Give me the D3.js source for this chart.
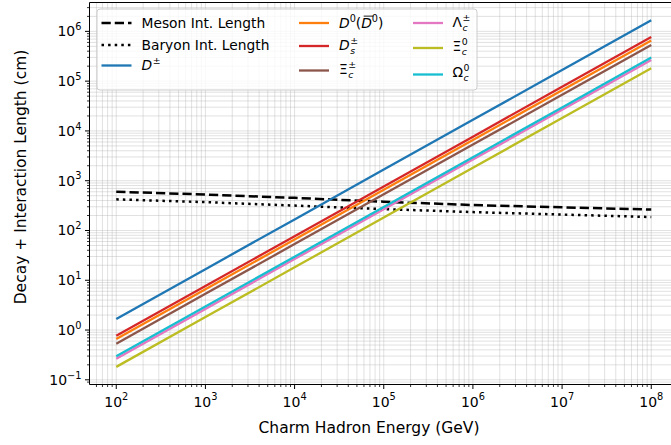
<!DOCTYPE html>
<html><head><meta charset="utf-8">
<script src="https://cdn.jsdelivr.net/npm/d3@7"></script>
<style>body{margin:0;background:#fff;} svg{display:block;font-family:"DejaVu Sans",sans-serif;}</style>
</head><body>
<svg id="c" width="671" height="445"></svg>
<script>
// ---- data ----
const energies = [1e2, 1e3, 1e4, 1e5, 1e6, 1e7, 1e8];
const mesonIntLength  = [600, 528, 452, 378, 324, 292, 263];
const baryonIntLength = [422, 371, 316, 269, 234, 209, 186];
const dPlus   = [1.67, 16.7, 167, 1670, 16700, 167000, 1670000];
const d0      = [0.659, 6.59, 65.9, 659, 6590, 65900, 659000];
const ds      = [0.768, 7.68, 76.8, 768, 7680, 76800, 768000];
const xiCPlus = [0.533, 5.33, 53.3, 533, 5330, 53300, 533000];
const lambdaC = [0.266, 2.66, 26.6, 266, 2660, 26600, 266000];
const xiC0    = [0.182, 1.82, 18.2, 182, 1820, 18200, 182000];
const omegaC0 = [0.297, 2.97, 29.7, 297, 2970, 29700, 297000];
const xTickExps = [2, 3, 4, 5, 6, 7, 8];
const yTickExps = [-1, 0, 1, 2, 3, 4, 5, 6];

const series = [
  {key:"D±", vals:dPlus, color:"#1f77b4"},
  {key:"D0", vals:d0, color:"#ff7f0e"},
  {key:"Ds", vals:ds, color:"#d62728"},
  {key:"Xic+", vals:xiCPlus, color:"#8c564b"},
  {key:"Lc", vals:lambdaC, color:"#e377c2"},
  {key:"Xic0", vals:xiC0, color:"#bcbd22"},
  {key:"Oc0", vals:omegaC0, color:"#17becf"}
];

const svg = d3.select("#c");
const L = 89.5, R = 678, T = 2.5, B = 384.5;
const x = d3.scaleLog().domain([Math.pow(10,1.7), Math.pow(10,8.3)]).range([L, R]);
const y = d3.scaleLog().domain([Math.pow(10,-1.094), Math.pow(10,6.58)]).range([B, T]);

svg.append("defs").append("clipPath").attr("id","clip")
  .append("rect").attr("x",L).attr("y",T).attr("width",R-L).attr("height",B-T);

// grid (major + minor)
const xMinor = [], yMinor = [];
for (let e = 1; e <= 8; e++) for (let m = 1; m <= 9; m++) {
  const v = m*Math.pow(10,e);
  if (v >= x.domain()[0] && v <= x.domain()[1]) xMinor.push(v);
}
for (let e = -2; e <= 6; e++) for (let m = 1; m <= 9; m++) {
  const v = m*Math.pow(10,e);
  if (v >= y.domain()[0] && v <= y.domain()[1]) yMinor.push(v);
}
const g = svg.append("g").attr("clip-path","url(#clip)");
g.selectAll(".gx").data(xMinor).join("line")
  .attr("x1",d=>x(d)).attr("x2",d=>x(d)).attr("y1",T).attr("y2",B)
  .attr("stroke","#b0b0b0").attr("stroke-opacity",0.38).attr("stroke-width",1);
g.selectAll(".gy").data(yMinor).join("line")
  .attr("y1",d=>y(d)).attr("y2",d=>y(d)).attr("x1",L).attr("x2",R)
  .attr("stroke","#b0b0b0").attr("stroke-opacity",0.38).attr("stroke-width",1);

const line = d3.line().x((d,i)=>x(energies[i])).y(d=>y(d));

g.append("path").attr("d", line(mesonIntLength)).attr("fill","none")
  .attr("stroke","#000").attr("stroke-width",2.5).attr("stroke-dasharray","9.25,4");
g.append("path").attr("d", line(baryonIntLength)).attr("fill","none")
  .attr("stroke","#000").attr("stroke-width",2.5).attr("stroke-dasharray","2.5,4.1");
series.forEach(s => {
  g.append("path").attr("d", line(s.vals)).attr("fill","none")
    .attr("stroke", s.color).attr("stroke-width",2.3);
});

// spines
svg.append("line").attr("x1",L).attr("x2",L).attr("y1",T).attr("y2",B).attr("stroke","#000").attr("stroke-width",1);
svg.append("line").attr("x1",L).attr("x2",R).attr("y1",B).attr("y2",B).attr("stroke","#000").attr("stroke-width",1);
svg.append("line").attr("x1",L).attr("x2",R).attr("y1",T).attr("y2",T).attr("stroke","#000").attr("stroke-width",1);

// ticks
const majX = xTickExps.map(e=>Math.pow(10,e));
const majY = yTickExps.map(e=>Math.pow(10,e));
svg.selectAll(".mtx").data(xMinor.filter(v=>!majX.some(m=>Math.abs(m-v)/m<1e-9))).join("line")
  .attr("x1",d=>x(d)).attr("x2",d=>x(d)).attr("y1",B).attr("y2",B+2.5).attr("stroke","#000").attr("stroke-width",0.8);
svg.selectAll(".mty").data(yMinor.filter(v=>!majY.some(m=>Math.abs(m-v)/m<1e-9))).join("line")
  .attr("y1",d=>y(d)).attr("y2",d=>y(d)).attr("x1",L).attr("x2",L-2.5).attr("stroke","#000").attr("stroke-width",0.8);
svg.selectAll(".Mtx").data(majX).join("line")
  .attr("x1",d=>x(d)).attr("x2",d=>x(d)).attr("y1",B).attr("y2",B+4.5).attr("stroke","#000").attr("stroke-width",1);
svg.selectAll(".Mty").data(majY).join("line")
  .attr("y1",d=>y(d)).attr("y2",d=>y(d)).attr("x1",L).attr("x2",L-4.5).attr("stroke","#000").attr("stroke-width",1);

const FS = 14;
function powLabel(sel, e) {
  sel.append("tspan").text("10");
  sel.append("tspan").attr("font-size", FS*0.7).attr("dy", -FS*0.45)
    .text(e < 0 ? "\u2212" + Math.abs(e) : String(e));
}
xTickExps.forEach(e => {
  const t = svg.append("text").attr("x", x(Math.pow(10,e))).attr("y", B+22)
    .attr("text-anchor","middle").attr("font-size",FS).attr("fill","#000");
  powLabel(t, e);
});
yTickExps.forEach(e => {
  const t = svg.append("text").attr("x", L-8).attr("y", y(Math.pow(10,e))+5)
    .attr("text-anchor","end").attr("font-size",FS).attr("fill","#000");
  powLabel(t, e);
});

// axis labels
svg.append("text").attr("x",369).attr("y",433).attr("text-anchor","middle")
  .attr("font-size",15.5).text("Charm Hadron Energy (GeV)");
svg.append("text").attr("transform","translate(26,177) rotate(-90)")
  .attr("text-anchor","middle").attr("font-size",15.5).text("Decay + Interaction Length (cm)");

// legend
const lg = svg.append("g");
lg.append("rect").attr("x",97).attr("y",9).attr("width",380).attr("height",81).attr("rx",3)
  .attr("fill","#fff").attr("fill-opacity",0.8).attr("stroke","#cccccc").attr("stroke-width",1);
const LF = 13.8;
function handle(x0, yy, color, dash, w) {
  lg.append("line").attr("x1",x0).attr("x2",x0+30).attr("y1",yy).attr("y2",yy)
    .attr("stroke",color).attr("stroke-width",w).attr("stroke-dasharray",dash||null);
}
// math label in a single text element: base, superscript, subscript stacked under it
function mathLabel(x0, yy, base, italic, sup, sub) {
  const t = lg.append("text").attr("x",x0).attr("y",yy).attr("font-size",LF);
  t.append("tspan").attr("font-style", italic?"italic":"normal").text(base);
  const w0 = t.node().getComputedTextLength();
  t.append("tspan").attr("font-size",LF*0.68).attr("dx",0.5).attr("dy",-LF*0.46).text(sup);
  const w1 = t.node().getComputedTextLength();
  if (sub) {
    t.append("tspan").attr("font-size",LF*0.68).attr("font-style","italic")
      .attr("dx", -(w1 - w0)).attr("dy", LF*0.78).text(sub);
  }
  return t;
}
// column 1
handle(101.5, 23, "#000", "9.25,4", 2.5);
lg.append("text").attr("x",141.5).attr("y",28).attr("font-size",LF).text("Meson Int. Length");
handle(101.5, 45, "#000", "2.5,4.1", 2.5);
lg.append("text").attr("x",141.5).attr("y",50).attr("font-size",LF).text("Baryon Int. Length");
handle(101.5, 65.5, "#1f77b4", null, 2.3);
mathLabel(141.5, 70, "D", true, "\u00b1", null);
// column 2
handle(299, 23, "#ff7f0e", null, 2.3);
{
  const yy = 28;
  const t = lg.append("text").attr("x",339).attr("y",yy).attr("font-size",LF);
  t.append("tspan").attr("font-style","italic").text("D");
  t.append("tspan").attr("font-size",LF*0.7).attr("dy",-LF*0.42).text("0");
  t.append("tspan").attr("dy",LF*0.42).text("(");
  const wBefore = t.node().getComputedTextLength();
  t.append("tspan").attr("font-style","italic").text("D");
  const wD = t.node().getComputedTextLength() - wBefore;
  t.append("tspan").attr("font-size",LF*0.7).attr("dy",-LF*0.42).text("0");
  t.append("tspan").attr("dy",LF*0.42).text(")");
  lg.append("line").attr("x1",339+wBefore+2.5).attr("x2",339+wBefore+wD+1.5)
    .attr("y1",yy-LF*0.86).attr("y2",yy-LF*0.86).attr("stroke","#000").attr("stroke-width",0.9);
}
handle(299, 46, "#d62728", null, 2.3);
mathLabel(339, 50, "D", true, "\u00b1", "s");
handle(299, 70.5, "#8c564b", null, 2.3);
mathLabel(339, 74, "\u039e", false, "\u00b1", "c");
// column 3
handle(413, 23, "#e377c2", null, 2.3);
mathLabel(452.5, 27, "\u039b", false, "\u00b1", "c");
handle(413, 48, "#bcbd22", null, 2.3);
mathLabel(452.5, 51, "\u039e", false, "0", "c");
handle(413, 74.5, "#17becf", null, 2.3);
mathLabel(452.5, 77, "\u03a9", false, "0", "c");
</script>
</body></html>
